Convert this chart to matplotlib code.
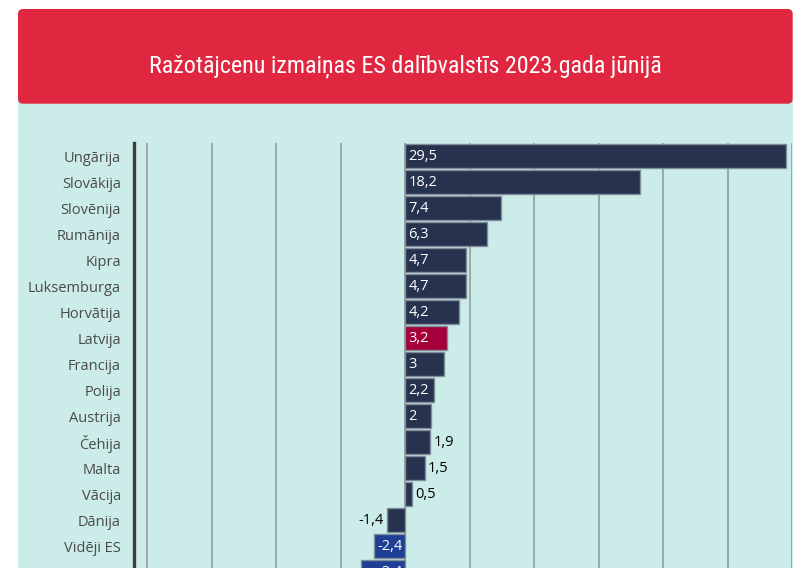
import matplotlib
matplotlib.use("Agg")
import matplotlib.pyplot as plt
from matplotlib.patches import FancyBboxPatch, Rectangle
from matplotlib import font_manager

# ---------------- data ----------------
title = "Ražotājcenu izmaiņas ES dalībvalstīs 2023.gada jūnijā"
countries = ["Ungārija", "Slovākija", "Slovēnija", "Rumānija", "Kipra", "Luksemburga",
             "Horvātija", "Latvija", "Francija", "Polija", "Austrija", "Čehija",
             "Malta", "Vācija", "Dānija", "Vidēji ES", "Eirozona"]
values = [29.5, 18.2, 7.4, 6.3, 4.7, 4.7, 4.2, 3.2, 3, 2.2, 2, 1.9, 1.5, 0.5, -1.4, -2.4, -3.4]
x_ticks = [-20, -15, -10, -5, 0, 5, 10, 15, 20, 25, 30]

# ---------------- style ----------------
W, H = 806, 568
RED = "#E1263F"
PANEL = "#CBECE9"
NAVY = "#27324F"
LV_RED = "#A5003A"
BLUE = "#1F3F95"
special = {"Latvija": LV_RED, "Vidēji ES": BLUE, "Eirozona": BLUE}

names = {f.name for f in font_manager.fontManager.ttflist}
title_font = None
title_stretch = "normal"
for cand in ["Roboto Condensed", "Liberation Sans Narrow", "Open Sans Condensed",
             "Noto Sans Condensed", "DejaVu Sans Condensed"]:
    if cand in names:
        title_font = cand
        break
if title_font is None:
    cond = [f for f in font_manager.fontManager.ttflist
            if f.name == "DejaVu Sans" and "ondensed" in str(f.stretch)]
    if cond:
        title_font = "DejaVu Sans"
        title_stretch = "condensed"
    else:
        title_font = "Roboto"

label_font = ["Open Sans", "DejaVu Sans"]

fig = plt.figure(figsize=(W / 100, H / 100), dpi=100)
fig.patch.set_facecolor("white")

# background / decoration axes in pixel coordinates
bg = fig.add_axes([0, 0, 1, 1], zorder=0)
bg.set_xlim(0, W)
bg.set_ylim(H, 0)
bg.axis("off")
bg.add_patch(Rectangle((18, 100), 792.7 - 18, 600, facecolor=PANEL, edgecolor="none"))
bg.add_patch(FancyBboxPatch((18, 9), 792.7 - 18, 103.7 - 9,
                            boxstyle="round,pad=0,rounding_size=5",
                            facecolor=RED, edgecolor="none"))
t = bg.text(405.5, 72.5, title, ha="center", va="baseline", color="white",
            fontsize=21, family=title_font, fontstretch=title_stretch)
r = fig.canvas.get_renderer()
wpx = t.get_window_extent(r).width
fs = 21 * 514 / wpx
t.set_fontsize(min(fs, 22.5))

# main axes
n = len(countries)
pitch = 26.0
top_px = 142.5
left_px, right_px = 134.3, 792.3
ylo, yhi = -0.52, n - 0.5
height_px = (yhi - ylo) * pitch
ax = fig.add_axes([left_px / W, (H - top_px - height_px) / H,
                   (right_px - left_px) / W, height_px / H], zorder=2)
ax.set_facecolor("none")
ax.set_xlim(-21, 30)
ax.set_ylim(yhi, ylo)

colors = [special.get(c, NAVY) for c in countries]
ypos = list(range(n))
ax.barh(ypos, values, height=0.9, color=colors, edgecolor="#7f8c99",
        linewidth=1.0, zorder=3)

ax.set_xticks(x_ticks)
ax.set_xticklabels([])
ax.tick_params(axis="x", length=0)
ax.grid(axis="x", color="#9aa9a7", linewidth=1.4, zorder=0)
ax.set_axisbelow(True)

ax.set_yticks(ypos)
ax.set_yticklabels(countries, family=label_font, fontsize=10.5, color="#4a4a4a")
ax.tick_params(axis="y", length=0, pad=9.5)

for s in ["top", "right", "bottom"]:
    ax.spines[s].set_visible(False)
ax.spines["left"].set_color("#3d3d3d")
ax.spines["left"].set_linewidth(2.4)
ax.spines["left"].set_zorder(4)

for i, v in enumerate(values):
    txt = f"{v:g}".replace(".", ",")
    inside = abs(v) >= 2
    if v >= 0:
        if inside:
            ax.annotate(txt, xy=(0, i), xytext=(2.2, 0), textcoords="offset points",
                        ha="left", va="center", color="white", fontsize=10.5,
                        family=label_font, zorder=5)
        else:
            ax.annotate(txt, xy=(v, i), xytext=(2.5, 0), textcoords="offset points",
                        ha="left", va="center", color="black", fontsize=10.5,
                        family=label_font, zorder=5)
    else:
        if inside:
            ax.annotate(txt, xy=(0, i), xytext=(-2.2, 0), textcoords="offset points",
                        ha="right", va="center", color="white", fontsize=10.5,
                        family=label_font, zorder=5)
        else:
            ax.annotate(txt, xy=(v, i), xytext=(-2.5, 0), textcoords="offset points",
                        ha="right", va="center", color="black", fontsize=10.5,
                        family=label_font, zorder=5)

fig.savefig("out.png", dpi=100)
